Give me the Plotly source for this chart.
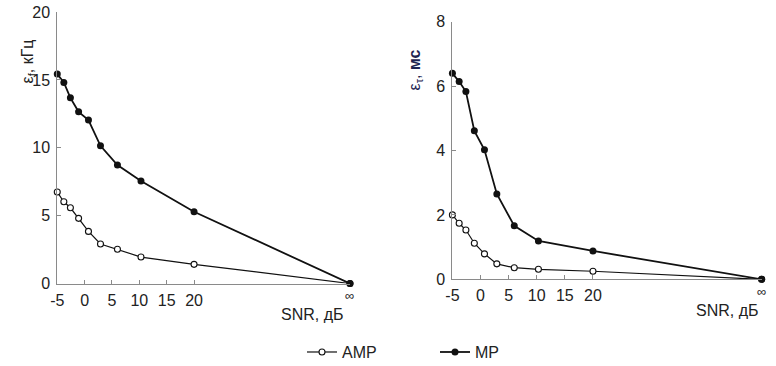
import plotly.graph_objects as go

# SNR points (dB); the last point is SNR = ∞, drawn at the right end of each axis
snr_amp = [-5, -3.8, -2.6, -1.1, 0.7, 2.9, 6, 10.3, 20]
snr_mp = [-5, -3.8, -2.6, -1.1, 0.7, 2.9, 6, 10.3, 20]

# Frequency error, kHz
ef_amp = [6.74, 6.02, 5.58, 4.80, 3.84, 2.91, 2.52, 1.95, 1.41, 0.0]
ef_mp = [15.43, 14.82, 13.68, 12.65, 12.04, 10.15, 8.73, 7.55, 5.29, 0.0]

# Delay error, ms
et_amp = [2.00, 1.74, 1.53, 1.12, 0.79, 0.48, 0.36, 0.31, 0.25, 0.0]
et_mp = [6.40, 6.14, 5.83, 4.61, 4.02, 2.65, 1.66, 1.19, 0.88, 0.0]

x_ticks = [-5, 0, 5, 10, 15, 20]
x_tick_text = ["-5", "0", "5", "10", "15", "20"]
y_ticks_left = [0, 5, 10, 15, 20]
y_ticks_right = [0, 2, 4, 6, 8]

INF_LEFT = 48.5
INF_RIGHT = 50.0

FONT = "Liberation Sans, Arial, sans-serif"
TXT = "#222222"
AX = "#8a8a8a"

fig = go.Figure()


def add_pair(xa, ya, amp, mp, inf_pos, show):
    xs_amp = snr_amp + [inf_pos]
    xs_mp = snr_mp + [inf_pos]
    fig.add_trace(go.Scatter(
        x=xs_amp, y=amp, mode="lines+markers", name="AMP", showlegend=show,
        xaxis=xa, yaxis=ya, cliponaxis=False,
        line=dict(color="#111111", width=1.2),
        marker=dict(symbol="circle", size=6, color="white",
                    line=dict(color="#111111", width=1.1)),
    ))
    fig.add_trace(go.Scatter(
        x=xs_mp, y=mp, mode="lines+markers", name="MP", showlegend=show,
        xaxis=xa, yaxis=ya, cliponaxis=False,
        line=dict(color="#111111", width=1.8),
        marker=dict(symbol="circle", size=7, color="#111111"),
    ))


add_pair("x", "y", ef_amp, ef_mp, INF_LEFT, True)
add_pair("x2", "y2", et_amp, et_mp, INF_RIGHT, False)

common_axis = dict(
    showgrid=False, zeroline=False, showline=True, linecolor=AX, linewidth=1,
    ticks="inside", ticklen=4, tickcolor=AX, automargin=False,
    tickfont=dict(family=FONT, size=16, color=TXT),
)

label_font = dict(family=FONT, size=16, color=TXT)

fig.update_layout(
    width=776, height=366,
    margin=dict(l=0, r=0, t=0, b=0, autoexpand=False),
    paper_bgcolor="white", plot_bgcolor="white",
    font=dict(family=FONT, color=TXT),
    xaxis=dict(domain=[0.0738, 0.451], range=[-5, INF_LEFT], tickvals=x_ticks,
               ticktext=x_tick_text, ticklabelstandoff=2, anchor="y",
               **common_axis),
    yaxis=dict(domain=[0.2254, 0.967], range=[0, 20], tickvals=y_ticks_left,
               ticklabelstandoff=3, anchor="x", **common_axis),
    xaxis2=dict(domain=[0.583, 0.9815], range=[-5, INF_RIGHT], tickvals=x_ticks,
                ticktext=x_tick_text, ticklabelstandoff=2, anchor="y2",
                **common_axis),
    yaxis2=dict(domain=[0.2369, 0.9407], range=[0, 8], tickvals=y_ticks_right,
                ticklabelstandoff=3, anchor="x2", **common_axis),
    legend=dict(orientation="h", x=302 / 776, xanchor="left", y=0.038,
                yanchor="middle", font=label_font,
                itemwidth=30, tracegroupgap=0, entrywidth=88),
    showlegend=True,
    annotations=[
        # ∞ marks at the end of each SNR axis
        dict(text="∞", x=INF_LEFT, xref="x", y=1 - 305 / 366, yref="paper",
             showarrow=False, font=dict(family=FONT, size=13, color=TXT)),
        dict(text="∞", x=INF_RIGHT, xref="x2", y=1 - 301 / 366, yref="paper",
             showarrow=False, font=dict(family=FONT, size=13, color=TXT)),
        # axis titles
        dict(text="ε<sub>f</sub>, кГц", x=16 / 776, y=1 - 38 / 366,
             xref="paper", yref="paper", textangle=-90, showarrow=False,
             font=label_font),
        dict(text="ε<sub>τ</sub>, <b>мс</b>", x=415 / 776, y=1 - 48 / 366,
             xref="paper", yref="paper", textangle=-90, showarrow=False,
             font=dict(family=FONT, size=16, color="#1d2450")),
        dict(text="SNR, дБ", x=346 / 776, y=1 - 314 / 366, xref="paper",
             yref="paper", xanchor="right", yanchor="middle", showarrow=False,
             font=label_font),
        dict(text="SNR, дБ", x=761 / 776, y=1 - 310 / 366, xref="paper",
             yref="paper", xanchor="right", yanchor="middle", showarrow=False,
             font=label_font),
    ],
)

fig.write_html("out.html")
